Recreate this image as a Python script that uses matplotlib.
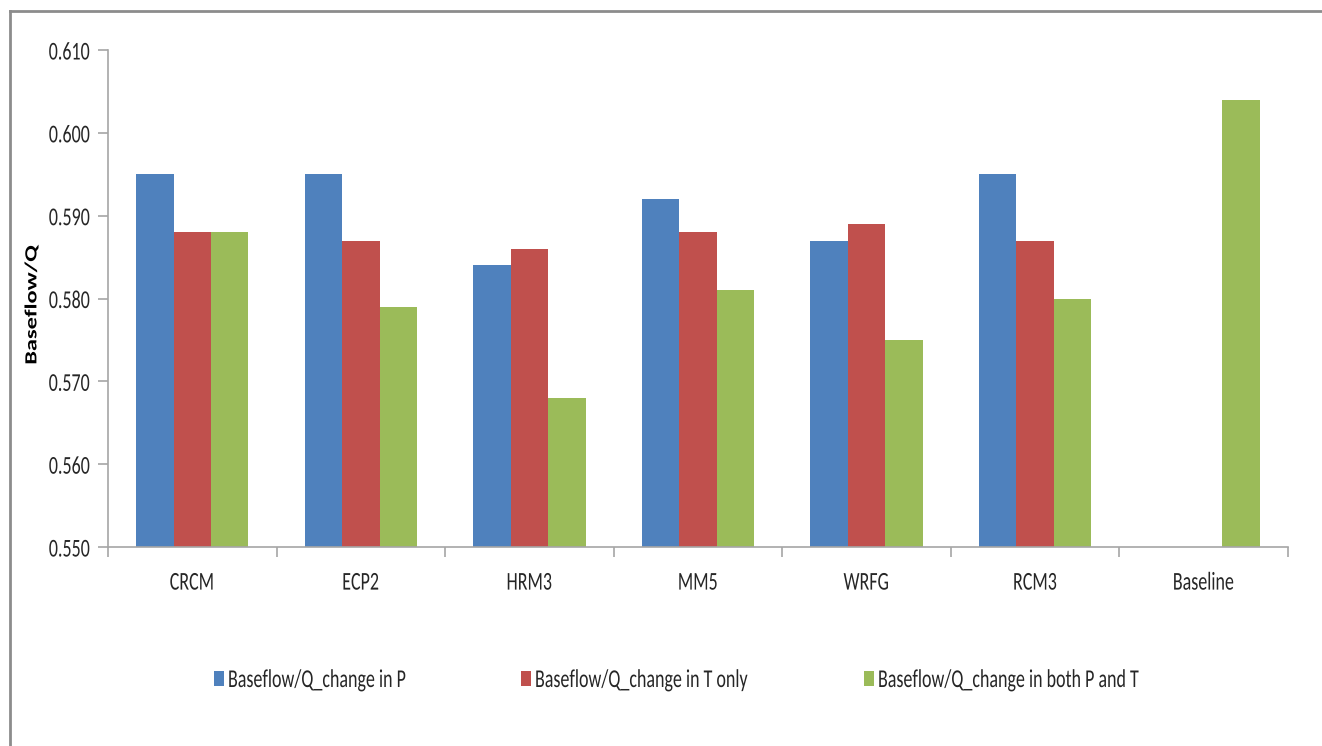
import numpy as np
import matplotlib
matplotlib.use("Agg")
import matplotlib.pyplot as plt
from matplotlib.lines import Line2D
from matplotlib.patches import Rectangle
from matplotlib.patheffects import AbstractPathEffect
from matplotlib.transforms import Affine2D, Bbox
from matplotlib import font_manager

categories = ["CRCM", "ECP2", "HRM3", "MM5", "WRFG", "RCM3", "Baseline"]
change_p = [0.595, 0.595, 0.584, 0.592, 0.587, 0.595, np.nan]
change_t = [0.588, 0.587, 0.586, 0.588, 0.589, 0.587, np.nan]
change_pt = [0.588, 0.579, 0.568, 0.581, 0.575, 0.580, 0.604]
series_labels = ["Baseflow/Q_change in P", "Baseflow/Q_change in T only",
                 "Baseflow/Q_change in both P and T"]
yticks = [0.550, 0.560, 0.570, 0.580, 0.590, 0.600, 0.610]

names = {f.name for f in font_manager.fontManager.ttflist}
fam = "Carlito" if "Carlito" in names else ("Lato" if "Lato" in names else "DejaVu Sans")
plt.rcParams['font.family'] = [fam, 'DejaVu Sans']
SQ = 0.70          # horizontal squeeze of the reference's text
sz = 18.5


class XSqueeze(AbstractPathEffect):
    """Draw text squeezed horizontally about its left, centre or right ink edge."""
    def __init__(self, s, anchor="center"):
        super().__init__()
        self.s = s
        self.anchor = anchor

    def draw_path(self, renderer, gc, tpath, affine, rgbFace=None):
        v = tpath.vertices
        if len(v) == 0:
            return
        d = affine.transform(v)
        xmin, xmax = d[:, 0].min(), d[:, 0].max()
        a = {"left": xmin, "center": 0.5 * (xmin + xmax), "right": xmax}[self.anchor]
        t = affine + Affine2D().translate(-a, 0).scale(self.s, 1).translate(a, 0)
        renderer.draw_path(gc, tpath, t, rgbFace)


def squeeze(text, s, anchor):
    text.set_path_effects([XSqueeze(s, anchor)])
    orig = text.get_window_extent

    def gwe(renderer=None, dpi=None):
        bb = orig(renderer=renderer, dpi=dpi)
        x0, x1 = bb.x0, bb.x1
        a = {"left": x0, "center": 0.5 * (x0 + x1), "right": x1}[anchor]
        return Bbox([[a + (x0 - a) * s, bb.y0], [a + (x1 - a) * s, bb.y1]])
    text.get_window_extent = gwe


colors = ["#4F81BD", "#C0504D", "#9BBB59"]
axis_col = "#A6A6A6"
txt_col = "#262626"
W, H = 1322, 746

fig = plt.figure(figsize=(W / 100, H / 100), dpi=100)
ax = fig.add_axes([108 / W, 1 - 547 / H, (1288 - 108) / W, (547 - 50) / H])

x = np.arange(len(categories))
w = 1 / 4.5
for i, (vals, c, lab) in enumerate(zip([change_p, change_t, change_pt], colors, series_labels)):
    ax.bar(x + (i - 1) * w, vals, width=w, color=c, label=lab)

ax.set_ylim(0.550, 0.610)
ax.set_xlim(-0.5, len(categories) - 0.5)
ax.set_yticks(yticks)
ax.set_yticklabels([f"{v:.3f}" for v in yticks], fontsize=sz, color=txt_col)
ax.set_xticks(x)
ax.set_xticklabels(categories, fontsize=sz, color=txt_col)
ax.tick_params(axis='x', length=0, pad=17)
ax.set_xticks(np.arange(len(categories) + 1) - 0.5, minor=True)
ax.tick_params(axis='x', which='minor', length=7, color=axis_col, width=1.2)
ax.tick_params(axis='y', length=7, color=axis_col, width=1.2, pad=6)
for t in ax.get_yticklabels():
    squeeze(t, SQ, "right")
for t in ax.get_xticklabels():
    squeeze(t, SQ, "center")
for s in ["top", "right"]:
    ax.spines[s].set_visible(False)
for s in ["left", "bottom"]:
    ax.spines[s].set_color(axis_col)
    ax.spines[s].set_linewidth(1.2)

yl = ax.set_ylabel("Baseflow/Q", fontsize=17.5, fontweight='bold', color="#000000")
squeeze(yl, SQ, "center")
ax.yaxis.set_label_coords((32 - 108) / (1288 - 108), (547 - 305) / (547 - 50))
yl.set_verticalalignment('center')
yl.set_horizontalalignment('center')

# legend (drawn as patches + text, below the plot)
leg_handle_x = [214, 521, 864]
for hx, c, lab in zip(leg_handle_x, colors, series_labels):
    fig.add_artist(Rectangle((hx / W, 1 - 686 / H), 10 / W, 15 / H,
                             transform=fig.transFigure, facecolor=c, edgecolor='none'))
    t = fig.text((hx + 14) / W, 1 - 687 / H, lab, fontsize=sz, color=txt_col,
                 ha='left', va='baseline')
    squeeze(t, SQ, "left")

# chart border
fig.add_artist(Line2D([10 / W, 10 / W], [0, 1 - 11 / H], transform=fig.transFigure,
                      color="#8C8C8C", lw=2))
fig.add_artist(Line2D([10 / W, 1], [1 - 11 / H, 1 - 11 / H], transform=fig.transFigure,
                      color="#8C8C8C", lw=2))

fig.savefig("out.png", dpi=100)
